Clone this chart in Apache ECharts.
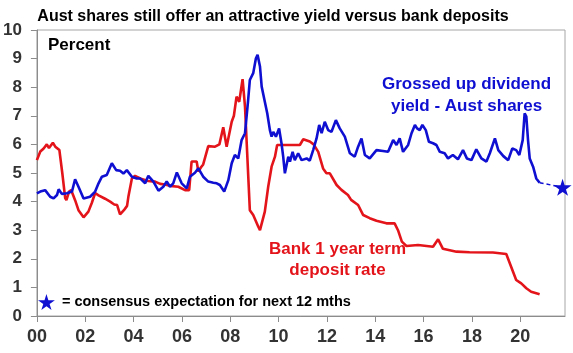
<!DOCTYPE html>
<html>
<head>
<meta charset="utf-8">
<script src="https://cdn.jsdelivr.net/npm/echarts@6/dist/echarts.min.js"></script>
<style>
  html, body { margin: 0; padding: 0; background: #fff; }
  #chart { width: 573px; height: 353px; }
</style>
</head>
<body>
<div id="chart"></div>
<script>
// years since 2000 (x) and percent values (y)
var depositYears = [0, 0.14, 0.27, 0.41, 0.5, 0.66, 0.76, 0.93, 1.05, 1.17, 1.22, 1.33, 1.42, 1.58, 1.72, 1.93,
  2.13, 2.27, 2.41, 2.55, 2.82, 3.03, 3.2, 3.32, 3.44, 3.6, 3.73, 3.79, 3.93, 4.06, 4.3, 4.6, 4.89, 5.1, 5.3,
  5.5, 5.85, 6.13, 6.3, 6.4, 6.61, 6.68, 6.79, 6.88, 7.09, 7.37, 7.55, 7.71, 7.85, 8.06, 8.15, 8.26, 8.37,
  8.51, 8.61, 8.81, 8.95, 9.16, 9.23, 9.43, 9.57, 9.71, 9.85, 9.94, 10.5, 10.88, 11.02, 11.29, 11.45, 11.64,
  11.84, 11.98, 12.12, 12.4, 12.6, 12.87, 13.0, 13.29, 13.5, 13.77, 14.05, 14.46, 14.8, 14.94, 15.1, 15.29,
  15.77, 16.39, 16.6, 16.8, 17.36, 17.9, 18.87, 19.42, 19.7, 19.83, 20.04, 20.25, 20.45, 20.8];
var depositRates = [5.45, 5.75, 5.85, 6.0, 5.87, 6.06, 5.92, 5.8, 5.0, 4.12, 4.05, 4.35, 4.4, 4.05, 3.7, 3.45,
  3.65, 3.95, 4.3, 4.22, 4.1, 4.0, 3.9, 3.88, 3.55, 3.7, 3.85, 4.2, 4.81, 4.9, 4.8, 4.72, 4.7, 4.62, 4.6,
  4.55, 4.52, 4.4, 4.4, 5.4, 5.4, 5.05, 5.2, 5.3, 5.94, 5.92, 6.0, 6.6, 5.92, 6.79, 7.0, 7.67, 7.49,
  8.28, 7.32, 3.7, 3.53, 3.12, 3.0, 3.65, 4.52, 5.22, 5.57, 5.98, 5.98, 5.98, 6.18, 6.1, 6.0, 5.74,
  5.16, 4.99, 4.99, 4.58, 4.41, 4.23, 4.06, 3.88, 3.53, 3.42, 3.33, 3.24, 3.24, 3.0, 2.6, 2.45,
  2.48, 2.42, 2.68, 2.35, 2.25, 2.23, 2.22, 2.17, 1.55, 1.26, 1.14, 0.97, 0.85, 0.76];

var yieldYears = [0, 0.14, 0.34, 0.55, 0.69, 0.83, 0.9, 1.03, 1.24, 1.45, 1.58, 1.72, 1.93, 2.2, 2.41, 2.55,
  2.69, 2.89, 3.1, 3.28, 3.44, 3.58, 3.72, 3.93, 4.13, 4.27, 4.48, 4.61, 4.82, 5.03, 5.23, 5.37, 5.51, 5.64,
  5.79, 5.99, 6.2, 6.33, 6.54, 6.68, 6.88, 7.09, 7.3, 7.44, 7.57, 7.75, 7.92, 8.06, 8.19, 8.33, 8.47, 8.61,
  8.74, 8.81, 8.95, 9.06, 9.13, 9.23, 9.3, 9.43, 9.53, 9.64, 9.71, 9.78, 9.89, 10.02, 10.12, 10.19, 10.26,
  10.4, 10.47, 10.58, 10.67, 10.81, 10.95, 11.16, 11.29, 11.43, 11.57, 11.68, 11.78, 11.91, 12.05, 12.19,
  12.37, 12.53, 12.74, 12.95, 13.15, 13.29, 13.43, 13.57, 13.77, 14.05, 14.32, 14.53, 14.74, 14.88, 15.01,
  15.15, 15.36, 15.5, 15.64, 15.73, 15.84, 15.95, 16.09, 16.22, 16.39, 16.53, 16.67, 16.87, 17.01, 17.21,
  17.42, 17.63, 17.79, 17.98, 18.18, 18.39, 18.6, 18.74, 18.95, 19.09, 19.3, 19.5, 19.67, 19.83, 19.96,
  20.1, 20.18, 20.25, 20.32, 20.39, 20.53, 20.66, 20.8];
var yieldValues = [4.29, 4.35, 4.4, 4.17, 4.11, 4.23, 4.43, 4.27, 4.29, 4.35, 4.78, 4.52, 4.11, 4.17, 4.35, 4.64,
  4.87, 4.93, 5.34, 5.1, 5.08, 4.98, 5.1, 4.87, 4.81, 4.81, 4.64, 4.9, 4.7, 4.38, 4.52, 4.7, 4.52, 4.64,
  5.02, 4.64, 4.46, 4.87, 5.01, 5.16, 4.87, 4.7, 4.66, 4.64, 4.58, 4.35, 4.75, 5.34, 5.63, 5.51, 6.15, 6.39,
  7.55, 8.25, 8.49, 9.0, 9.13, 8.72, 8.02, 7.49, 7.09, 6.5, 6.27, 6.44, 6.27, 6.56, 6.04, 5.57, 4.99,
  5.57, 5.4, 5.74, 5.45, 5.69, 5.45, 5.51, 5.43, 5.8, 6.21, 6.68, 6.39, 6.79, 6.5, 6.44,
  6.85, 6.56, 6.27, 5.69, 5.57, 5.92, 6.21, 5.63, 5.51, 5.8, 5.77, 5.74, 6.15, 5.98, 6.21,
  5.74, 5.98, 6.39, 6.68, 6.56, 6.5, 6.68, 6.5, 6.09, 6.04, 5.98, 5.74, 5.69, 5.51, 5.63,
  5.48, 5.8, 5.51, 5.45, 5.83, 5.51, 5.4, 5.69, 6.21, 5.8, 5.59, 5.45, 5.86, 5.8, 5.63,
  6.15, 7.09, 6.97, 6.15, 5.51, 5.22, 4.81, 4.66];

// consensus expectation for next 12 months
var forecastYears = [20.8, 21.75];
var forecastValues = [4.66, 4.5];

var xTickLabels = ["00", "02", "04", "06", "08", "10", "12", "14", "16", "18", "20"];

function zip(xs, ys) {
  return xs.map(function (x, i) { return [x, ys[i]]; });
}

var blue = "#0f0fd2";
var red = "#e4141b";
var starPath = "path://M50,0 L61,35 L98,35 L68,57 L79,91 L50,70 L21,91 L32,57 L2,35 L39,35 Z";
var font = "Liberation Sans";
var noteText = "= consensus expectation for next 12 mths";

var myChart = echarts.init(document.getElementById("chart"));

var option = {
  animation: false,
  textStyle: { fontFamily: font },
  title: {
    text: "Aust shares still offer an attractive yield versus bank deposits",
    left: 268,
    top: 4,
    textAlign: "center",
    textStyle: { fontSize: 16, fontWeight: "bold", color: "#000", fontFamily: font },
  },
  legend: {
    left: 38,
    top: 294,
    padding: 0,
    itemWidth: 17,
    itemHeight: 16,
    data: [{ name: noteText, icon: starPath, itemStyle: { color: blue, opacity: 1 } }],
    textStyle: { fontSize: 14.5, fontWeight: "bold", color: "#000", fontFamily: font, padding: [0, 0, 0, 2] },
    selectedMode: false,
  },
  grid: {
    left: 36,
    right: 8,
    top: 30,
    bottom: 37,
    show: true,
    borderColor: "#a6a6a6",
    borderWidth: 1,
  },
  xAxis: {
    type: "value",
    min: 0,
    max: 21.85,
    interval: 2,
    splitLine: { show: false },
    axisLine: { lineStyle: { color: "#8c8c8c", width: 1 } },
    axisTick: { show: true, length: 6, lineStyle: { color: "#8c8c8c" } },
    axisLabel: {
      showMaxLabel: false,
      margin: 12,
      fontSize: 18,
      fontWeight: "bold",
      color: "#333",
      formatter: function (v) {
        var i = Math.round(v / 2);
        return xTickLabels[i] !== undefined && Math.abs(v - i * 2) < 1e-6 ? xTickLabels[i] : "";
      },
    },
  },
  yAxis: {
    type: "value",
    min: 0,
    max: 10,
    interval: 1,
    splitLine: { show: false },
    axisLine: { show: true, lineStyle: { color: "#8c8c8c", width: 1 } },
    axisTick: { show: true, length: 6, lineStyle: { color: "#8c8c8c" } },
    axisLabel: { margin: 15, fontSize: 17, fontWeight: "bold", color: "#333" },
  },
  graphic: [
    {
      type: "text",
      left: 48,
      top: 37,
      style: { text: "Percent", font: "bold 17px " + font, fill: "#000" },
    },
    {
      type: "text",
      left: 382,
      top: 73,
      style: {
        text: "Grossed up dividend\nyield - Aust shares",
        font: "bold 17px " + font,
        fill: blue,
        textAlign: "center",
        lineHeight: 22,
      },
    },
    {
      type: "text",
      left: 269,
      top: 239,
      style: {
        text: "Bank 1 year term\ndeposit rate",
        font: "bold 17px " + font,
        fill: red,
        textAlign: "center",
        lineHeight: 21,
      },
    },
  ],
  series: [
    {
      name: "Bank 1 year term deposit rate",
      type: "line",
      data: zip(depositYears, depositRates),
      showSymbol: false,
      lineStyle: { color: red, width: 2.6 },
      z: 2,
    },
    {
      name: "Grossed up dividend yield - Aust shares",
      type: "line",
      data: zip(yieldYears, yieldValues),
      showSymbol: false,
      lineStyle: { color: blue, width: 2.6 },
      z: 3,
    },
    {
      name: "Forecast",
      type: "line",
      data: zip(forecastYears, forecastValues),
      showSymbol: false,
      lineStyle: { color: blue, width: 1.5, type: [4, 3] },
      z: 3,
    },
    {
      name: noteText,
      type: "scatter",
      data: [[forecastYears[1], forecastValues[1]]],
      symbol: starPath,
      symbolSize: [18, 17],
      itemStyle: { color: blue, opacity: 1 },
      z: 4,
    },
  ],
};

myChart.setOption(option);
</script>
</body>
</html>
